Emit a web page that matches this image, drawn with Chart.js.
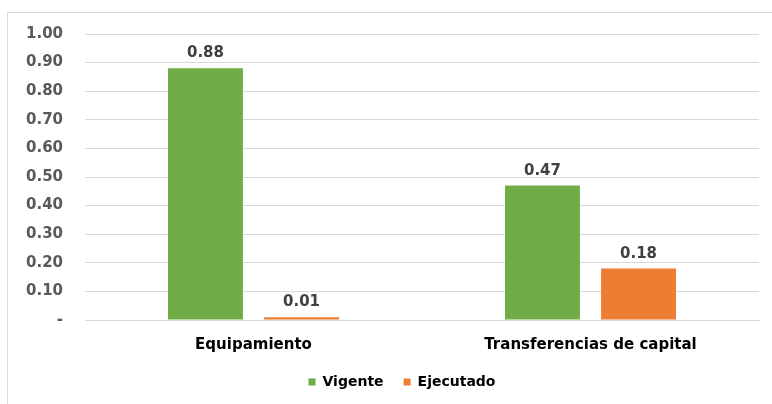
<!DOCTYPE html>
<html>
<head>
<meta charset="utf-8">
<script src="https://cdn.jsdelivr.net/npm/chart.js@4/dist/chart.umd.min.js"></script>
<style>
  html, body { margin: 0; padding: 0; background: #fff; overflow: hidden; }
  #frame {
    position: absolute; left: 7px; top: 12px; width: 790px; height: 420px;
    border: 1px solid #d9d9d9; box-sizing: border-box;
  }
  #wrap { position: absolute; left: 8px; top: 3px; width: 764px; height: 401px; }
</style>
</head>
<body>
<div id="frame"></div>
<div id="wrap"><canvas id="chart"></canvas></div>
<script>
const categories = ['Equipamiento', 'Transferencias de capital'];
const vigente = [0.88, 0.47];
const ejecutado = [0.01, 0.18];
const yTicks = [0, 0.1, 0.2, 0.3, 0.4, 0.5, 0.6, 0.7, 0.8, 0.9, 1.0];

const FONT = "'DejaVu Sans', Verdana, sans-serif";

// draws the value above each bar
const valueLabels = {
  id: 'valueLabels',
  afterDatasetsDraw(chart) {
    const ctx = chart.ctx;
    ctx.save();
    ctx.font = `bold 15px ${FONT}`;
    ctx.fillStyle = '#404040';
    ctx.textAlign = 'center';
    ctx.textBaseline = 'alphabetic';
    chart.data.datasets.forEach((ds, i) => {
      chart.getDatasetMeta(i).data.forEach((bar, j) => {
        ctx.fillText(ds.data[j].toFixed(2), bar.x, bar.y - 11);
      });
    });
    ctx.restore();
  }
};

// the legend sits a bit right of the chart centre in the original
const legendShift = {
  id: 'legendShift',
  beforeDraw(chart) {
    const lg = chart.legend;
    lg.left = 24;
    lg.right = chart.width;
  }
};

new Chart(document.getElementById('chart'), {
  type: 'bar',
  data: {
    labels: categories,
    datasets: [
      {
        label: 'Vigente',
        data: vigente,
        backgroundColor: '#70ad47',
        categoryPercentage: 0.57,
        barPercentage: 0.78
      },
      {
        label: 'Ejecutado',
        data: ejecutado,
        backgroundColor: '#ed7d31',
        categoryPercentage: 0.57,
        barPercentage: 0.78
      }
    ]
  },
  options: {
    responsive: true,
    maintainAspectRatio: false,
    animation: false,
    layout: { padding: { top: 3, right: 13, bottom: 5, left: 0 } },
    plugins: {
      legend: {
        position: 'bottom',
        labels: {
          boxWidth: 7,
          boxHeight: 7,
          padding: 20,
          color: '#000',
          font: { family: FONT, size: 14, weight: 'bold' }
        }
      },
      tooltip: { enabled: false }
    },
    scales: {
      x: {
        grid: { display: false },
        border: { color: '#d9d9d9' },
        ticks: {
          color: '#000',
          padding: 8,
          font: { family: FONT, size: 15, weight: 'bold' }
        },
        afterFit: (scale) => { scale.height = 35; }
      },
      y: {
        min: 0,
        max: 1,
        afterBuildTicks: (scale) => { scale.ticks = yTicks.map(v => ({ value: v })); },
        grid: { color: '#d9d9d9', drawTicks: false },
        border: { display: false },
        ticks: {
          color: '#595959',
          padding: 22,
          font: { family: FONT, size: 15, weight: 'bold' },
          callback: (v) => v === 0 ? '-' : v.toFixed(2)
        },
        afterFit: (scale) => { scale.width = 77; }
      }
    }
  },
  plugins: [valueLabels, legendShift]
});
</script>
</body>
</html>
